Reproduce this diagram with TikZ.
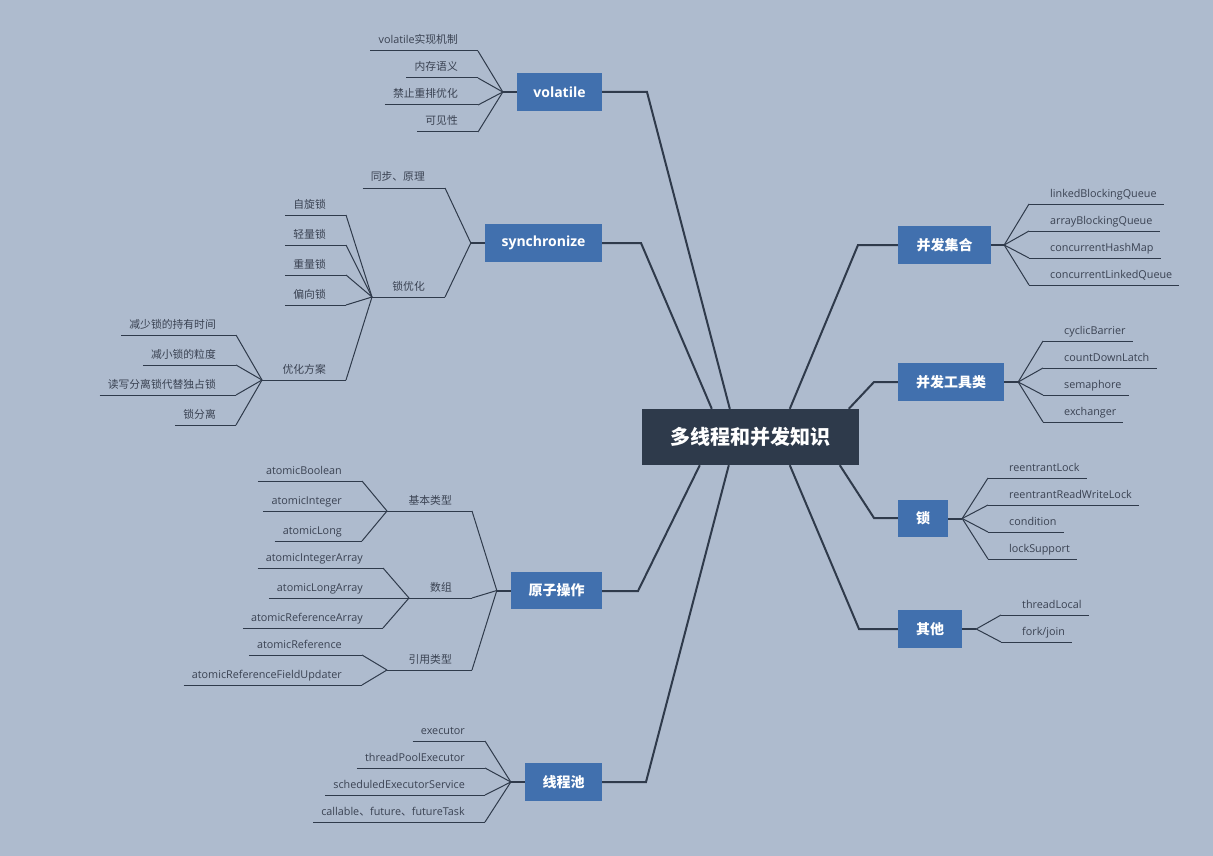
\documentclass[tikz,border=0pt]{standalone}
\usepackage{fontspec}
\setmainfont{Open Sans}
\newfontfamily\cjkfont{Noto Sans CJK SC}
\usetikzlibrary{calc}
\definecolor{bg}{HTML}{AEBBCE}
\definecolor{topicblue}{HTML}{4170AE}
\definecolor{rootdark}{HTML}{2E3A4B}
\definecolor{linec}{HTML}{2F3A4B}
\definecolor{leaftext}{HTML}{3A4252}
\newcommand\zh[1]{{\cjkfont #1}}
\tikzset{
  topic/.style={fill=topicblue, text=white, font=\fontsize{14}{16}\selectfont\bfseries, inner sep=0},
  rootnode/.style={fill=rootdark, text=white, font=\fontsize{20}{24}\selectfont\bfseries\cjkfont, inner sep=0},
  leaf/.style={text=leaftext, font=\fontsize{10.8}{13}\selectfont, inner sep=0},
  leafline/.style={draw=linec, line width=1},
  branch/.style={draw=linec, line width=2},
}
% left leaf: name, line right end x, y, text
\newcommand\leafL[4]{%
  \coordinate (#1) at (#2,#3);
  \node[leaf,anchor=base east] (#1-t) at ($(#1)+(-20,-7)$) {#4};
  \draw[leafline] ($(#1-t.west |- #1)+(-8,0)$) -- (#1);
}
% left middle: name, right x, y, left x (child junction), text
\newcommand\midL[5]{%
  \coordinate (#1) at (#2,#3);
  \coordinate (#1-j) at (#4,#3);
  \node[leaf,anchor=base east] (#1-t) at ($(#1)+(-20,-7)$) {#5};
  \draw[leafline] (#1-j) -- (#1);
}
% right leaf: name, line left end x, y, text
\newcommand\leafR[4]{%
  \coordinate (#1) at (#2,#3);
  \node[leaf,anchor=base west] (#1-t) at ($(#1)+(21,-7)$) {#4};
  \draw[leafline] (#1) -- ($(#1-t.east |- #1)+(7,0)$);
}
\begin{document}
\begin{tikzpicture}[x=1pt,y=-1pt]
\useasboundingbox (0,0) rectangle (1213,856);
\fill[bg] (0,0) rectangle (1213,856);

% root
\node[rootnode, minimum width=217, minimum height=56] (root) at (750.5,437) {多线程和并发知识};

% topics
\node[topic, minimum width=85, minimum height=38] (vol) at (559.5,92) {volatile};
\node[topic, minimum width=117, minimum height=38] (syn) at (543.5,243) {synchronize};
\node[topic, minimum width=91, minimum height=37] (ato) at (556.5,590.5) {\zh{原子操作}};
\node[topic, minimum width=77, minimum height=38] (thp) at (563.5,782) {\zh{线程池}};
\node[topic, minimum width=93, minimum height=38] (col) at (944.5,245) {\zh{并发集合}};
\node[topic, minimum width=106, minimum height=38] (utl) at (951,382) {\zh{并发工具类}};
\node[topic, minimum width=50, minimum height=37] (lck) at (923,518.5) {\zh{锁}};
\node[topic, minimum width=64, minimum height=38] (oth) at (930,629) {\zh{其他}};

% main branches
\coordinate (vol-b) at (647,92);
\coordinate (syn-b) at (641,243);
\coordinate (ato-b) at (638,591);
\coordinate (thp-b) at (646,782);
\coordinate (col-b) at (858,245);
\coordinate (utl-b) at (874,382);
\coordinate (lck-b) at (874,518);
\coordinate (oth-b) at (859,629);
\draw[branch] (vol.east) -- (vol-b) -- ($(root.north west)+(88,0)$);
\draw[branch] (syn.east) -- (syn-b) -- ($(root.north west)+(70,0)$);
\draw[branch] (ato.east |- ato-b) -- (ato-b) -- ($(root.south west)+(58,0)$);
\draw[branch] (thp.east) -- (thp-b) -- ($(root.south west)+(87,0)$);
\draw[branch] (col.west) -- (col-b) -- ($(root.north west)+(148,0)$);
\draw[branch] (utl.west) -- (utl-b) -- ($(root.north west)+(207,0)$);
\draw[branch] (lck.west |- lck-b) -- (lck-b) -- ($(root.south west)+(198,0)$);
\draw[branch] (oth.west) -- (oth-b) -- ($(root.south west)+(148,0)$);

% junctions
\coordinate (vol-j) at ($(vol.west)+(-14,0)$);
\coordinate (syn-j) at ($(syn.west)+(-14,0)$);
\coordinate (ato-j) at ($(ato.west)+(-14,0)$);
\coordinate (thp-j) at ($(thp.west)+(-14,0)$);
\coordinate (col-j) at ($(col.east)+(13,0)$);
\coordinate (utl-j) at ($(utl.east)+(14,0)$);
\coordinate (lck-j) at ($(lck.east)+(14,0)$);
\coordinate (oth-j) at ($(oth.east)+(14,0)$);
\draw[branch] (vol.west) -- (vol-j);
\draw[branch] (syn.west) -- (syn-j);
\draw[branch] (ato.west) -- (ato-j);
\draw[branch] (thp.west) -- (thp-j);
\draw[branch] (col.east) -- (col-j);
\draw[branch] (utl.east) -- (utl-j);
\draw[branch] (lck.east) -- (lck-j);
\draw[branch] (oth.east) -- (oth-j);

% volatile
\leafL{v1}{478}{51}{volatile\zh{实现机制}}
\leafL{v2}{478}{78}{\zh{内存语义}}
\leafL{v3}{478}{105}{\zh{禁止重排优化}}
\leafL{v4}{478}{132}{\zh{可见性}}
\foreach \n in {v1,v2,v3,v4} \draw[leafline] (vol-j) -- (\n);

% synchronize
\leafL{s1}{445}{188}{\zh{同步、原理}}
\midL{s2}{445}{297}{372}{\zh{锁优化}}
\foreach \n in {s1,s2} \draw[leafline] (syn-j) -- (\n);
\leafL{s21}{346}{215}{\zh{自旋锁}}
\leafL{s22}{346}{245}{\zh{轻量锁}}
\leafL{s23}{346}{275}{\zh{重量锁}}
\leafL{s24}{346}{305}{\zh{偏向锁}}
\midL{s25}{346}{380}{262}{\zh{优化方案}}
\foreach \n in {s21,s22,s23,s24,s25} \draw[leafline] (s2-j) -- (\n);
\leafL{s251}{236}{335}{\zh{减少锁的持有时间}}
\leafL{s252}{236}{365}{\zh{减小锁的粒度}}
\leafL{s253}{236}{395}{\zh{读写分离锁代替独占锁}}
\leafL{s254}{236}{425}{\zh{锁分离}}
\foreach \n in {s251,s252,s253,s254} \draw[leafline] (s25-j) -- (\n);

% atomic
\midL{a1}{472}{511}{387}{\zh{基本类型}}
\midL{a2}{472}{598}{409}{\zh{数组}}
\midL{a3}{472}{670}{387}{\zh{引用类型}}
\foreach \n in {a1,a2,a3} \draw[leafline] (ato-j) -- (\n);
\leafL{a11}{362}{481}{atomicBoolean}
\leafL{a12}{362}{511}{atomicInteger}
\leafL{a13}{362}{541}{atomicLong}
\foreach \n in {a11,a12,a13} \draw[leafline] (a1-j) -- (\n);
\leafL{a21}{383}{568}{atomicIntegerArray}
\leafL{a22}{383}{598}{atomicLongArray}
\leafL{a23}{383}{628}{atomicReferenceArray}
\foreach \n in {a21,a22,a23} \draw[leafline] (a2-j) -- (\n);
\leafL{a31}{362}{655}{atomicReference}
\leafL{a32}{362}{685}{atomicReferenceFieldUpdater}
\foreach \n in {a31,a32} \draw[leafline] (a3-j) -- (\n);

% thread pool
\leafL{t1}{485}{741}{executor}
\leafL{t2}{485}{768}{threadPoolExecutor}
\leafL{t3}{485}{795}{scheduledExecutorService}
\leafL{t4}{485}{822}{callable\zh{、}future\zh{、}futureTask}
\foreach \n in {t1,t2,t3,t4} \draw[leafline] (thp-j) -- (\n);

% collections
\leafR{c1}{1029}{204}{linkedBlockingQueue}
\leafR{c2}{1029}{231}{arrayBlockingQueue}
\leafR{c3}{1029}{258}{concurrentHashMap}
\leafR{c4}{1029}{285}{concurrentLinkedQueue}
\foreach \n in {c1,c2,c3,c4} \draw[leafline] (col-j) -- (\n);

% utilities
\leafR{u1}{1043}{341}{cyclicBarrier}
\leafR{u2}{1043}{368}{countDownLatch}
\leafR{u3}{1043}{395}{semaphore}
\leafR{u4}{1043}{422}{exchanger}
\foreach \n in {u1,u2,u3,u4} \draw[leafline] (utl-j) -- (\n);

% locks
\leafR{l1}{988}{478}{reentrantLock}
\leafR{l2}{988}{505}{reentrantReadWriteLock}
\leafR{l3}{988}{532}{condition}
\leafR{l4}{988}{559}{lockSupport}
\foreach \n in {l1,l2,l3,l4} \draw[leafline] (lck-j) -- (\n);

% others
\leafR{o1}{1001}{615}{threadLocal}
\leafR{o2}{1001}{642}{fork/join}
\foreach \n in {o1,o2} \draw[leafline] (oth-j) -- (\n);
\end{tikzpicture}
\end{document}
